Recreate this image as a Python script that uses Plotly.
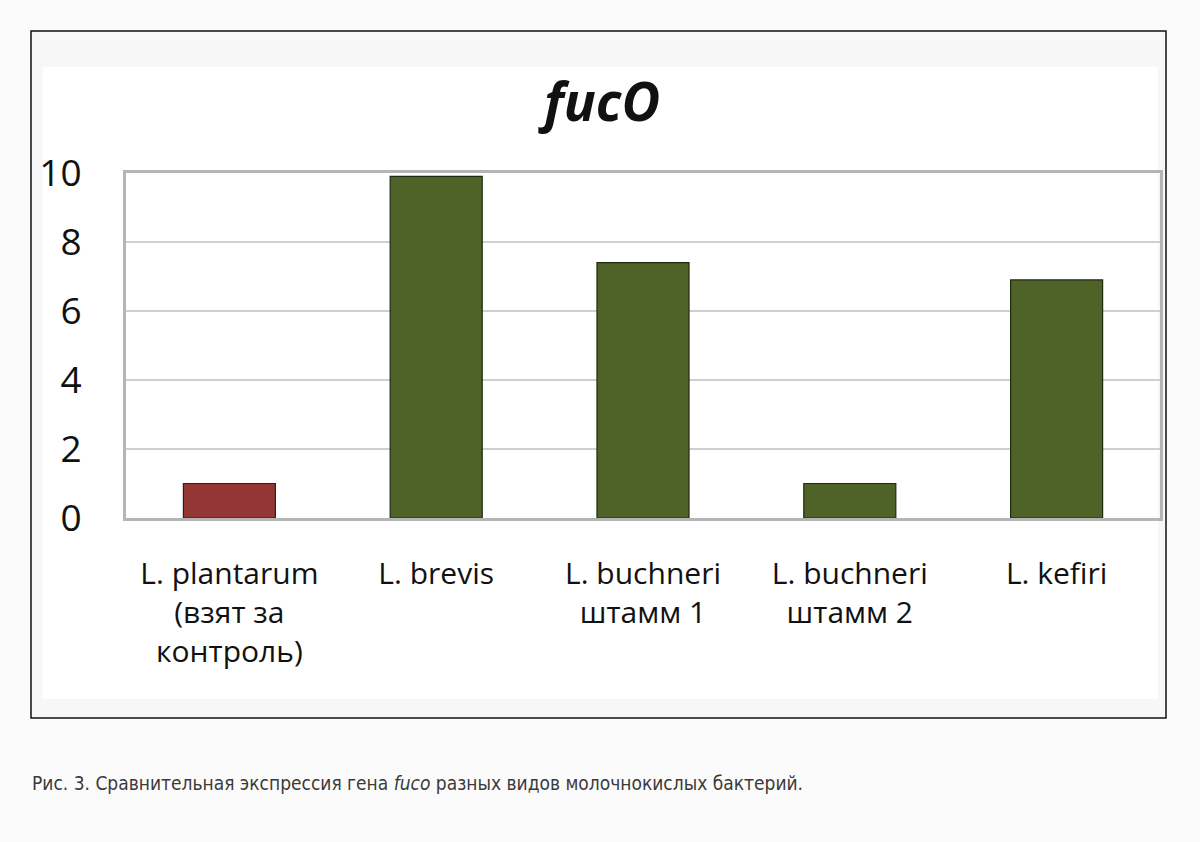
import plotly.graph_objects as go

categories = ["L. plantarum<br>(взят за<br>контроль)", "L. brevis",
              "L. buchneri<br>штамм 1", "L. buchneri<br>штамм 2", "L. kefiri"]
values = [1.0, 9.9, 7.4, 1.0, 6.9]
bar_colors = ["#943634", "#4f6228", "#4f6228", "#4f6228", "#4f6228"]
y_ticks = [0, 2, 4, 6, 8, 10]

# plot area in pixels (for placing the decorative frame)
L, R, T, B = 126, 1160, 173, 518


def px(x):
    return (x - L) / (R - L)


def py(y):
    return (B - y) / (B - T)


fig = go.Figure()
fig.add_trace(go.Bar(x=categories, y=values,
                     marker=dict(color=bar_colors, line=dict(color="#1f2a10", width=1.2)),
                     width=0.445))

# outer frame and inner white area
fig.add_shape(type="rect", xref="paper", yref="paper", layer="below",
              x0=px(31), x1=px(1166), y0=py(718), y1=py(31),
              line=dict(color="#111111", width=1.5), fillcolor="#f8f7f7")
fig.add_shape(type="rect", xref="paper", yref="paper", layer="below",
              x0=px(43), x1=px(1158), y0=py(699), y1=py(67),
              line=dict(width=0), fillcolor="#ffffff")

fig.add_annotation(text="<b><i>fucO</i></b>", xref="paper", yref="paper",
                   x=px(599), y=py(100), xanchor="center", yanchor="middle", showarrow=False,
                   font=dict(family="Open Sans", size=53, color="#111111"))

fig.add_annotation(text="Рис. 3. Сравнительная экспрессия гена <i>fuco</i> разных видов молочнокислых бактерий.",
                   xref="paper", yref="paper", x=px(30), y=py(783),
                   xanchor="left", yanchor="middle", showarrow=False,
                   font=dict(family="DejaVu Sans Condensed", size=19, color="#3a3a3a"))

fig.update_layout(
    width=1200, height=842,
    margin=dict(l=L, r=1200 - R, t=T, b=842 - B, autoexpand=False),
    paper_bgcolor="#fcfbfb", plot_bgcolor="#ffffff",
    showlegend=False,
    font=dict(family="Open Sans", color="#111111"),
)
fig.update_yaxes(range=[0, 10], tickvals=y_ticks, showgrid=True,
                 gridcolor="#cfcfcf", gridwidth=1.5,
                 showline=True, mirror=True, linecolor="#b5b5b5", linewidth=3,
                 zeroline=False, tickfont=dict(size=37, color="#111111"),
                 ticklabelstandoff=34)
fig.update_xaxes(showline=True, mirror=True, linecolor="#b5b5b5", linewidth=3,
                 tickfont=dict(size=30, color="#111111"), ticklabelstandoff=27)

fig.write_html("out.html", config={"displayModeBar": False},
               post_script="document.body.style.margin='0';")
